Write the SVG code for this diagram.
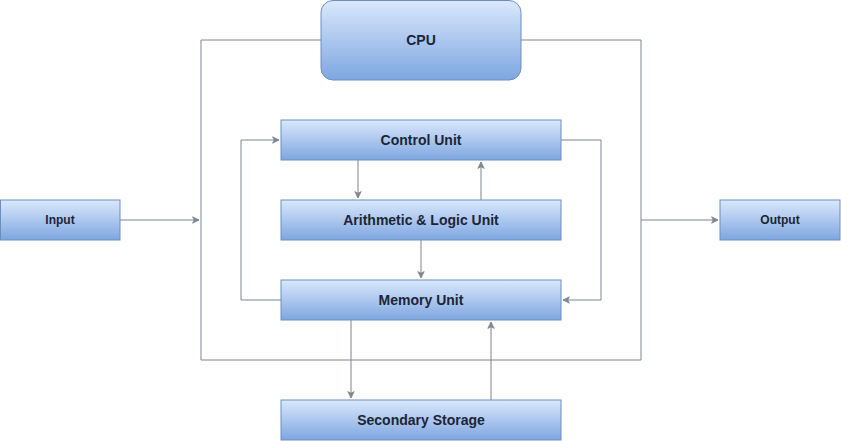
<svg xmlns="http://www.w3.org/2000/svg" width="841" height="441" viewBox="0 0 841 441">
<style>
.box{fill:url(#g);stroke:#6c8ebf;stroke-width:1}
.t{font-family:"Liberation Sans",Arial,sans-serif;font-weight:bold;font-size:14px;fill:#1c2536;text-anchor:middle;dominant-baseline:central}
.s{font-size:12px}
.c{fill:none;stroke:#7f8690;stroke-width:1}
.a{marker-end:url(#ah)}
</style>
<defs>
<linearGradient id="g" x1="0" y1="0" x2="0" y2="1">
<stop offset="0" stop-color="#dae8fc"/>
<stop offset="1" stop-color="#7ea6e0"/>
</linearGradient>
<marker id="ah" viewBox="0 0 10 10" refX="9" refY="5" markerWidth="8" markerHeight="8" markerUnits="userSpaceOnUse" orient="auto">
<path d="M1,1 L9,5 L1,9 L3,5 Z" fill="#7f8690" stroke="#7f8690"/>
</marker>
</defs>
<g id="connectors">
<path class="c" d="M321,40 H201 V360 H641 V40 H521"/>
<path class="c a" d="M120,220 H199"/>
<path class="c a" d="M641,220 H718"/>
<path class="c a" d="M358,160 V198"/>
<path class="c a" d="M481,200 V162"/>
<path class="c a" d="M421,240 V278"/>
<path class="c a" d="M281,300 H241 V140 H279"/>
<path class="c a" d="M561,140 H601 V300 H563"/>
<path class="c a" d="M351,320 V398"/>
<path class="c a" d="M491,400 V322"/>
</g>
<g id="cpu"><rect class="box" x="321" y="0.5" width="200" height="79.5" rx="12"/><text class="t" x="421" y="40">CPU</text></g>
<g id="input"><rect class="box" x="0.5" y="200" width="119.5" height="40"/><text class="t s" x="60" y="220">Input</text></g>
<g id="output"><rect class="box" x="720" y="200" width="120" height="40"/><text class="t s" x="780" y="220">Output</text></g>
<g id="control"><rect class="box" x="281" y="120" width="280" height="40"/><text class="t" x="421" y="140">Control Unit</text></g>
<g id="alu"><rect class="box" x="281" y="200" width="280" height="40"/><text class="t" x="421" y="220">Arithmetic &amp; Logic Unit</text></g>
<g id="memory"><rect class="box" x="281" y="280" width="280" height="40"/><text class="t" x="421" y="300">Memory Unit</text></g>
<g id="storage"><rect class="box" x="281" y="400" width="280" height="40"/><text class="t" x="421" y="420">Secondary Storage</text></g>
</svg>
